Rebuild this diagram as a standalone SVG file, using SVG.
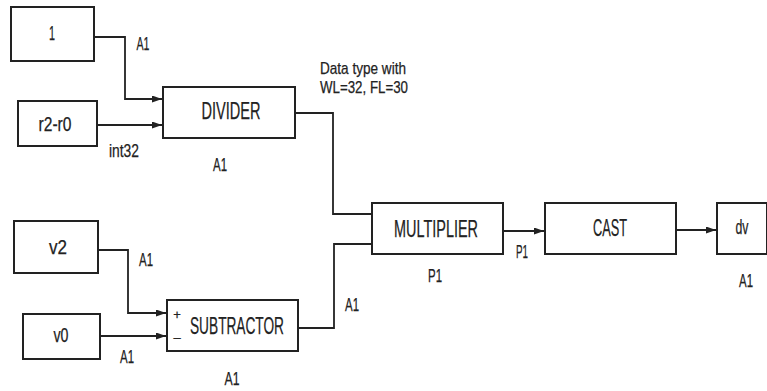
<svg xmlns="http://www.w3.org/2000/svg" width="767" height="391" viewBox="0 0 767 391">
<style>
.box{fill:#fff;stroke:#222;stroke-width:2}
.c{fill:none;stroke:#222;stroke-width:1.8}
text{font-family:"Liberation Sans",Arial,sans-serif;fill:#222;text-anchor:middle;stroke:#222;stroke-width:0.25}
.big{font-size:24px}
.in{font-size:20px}
.lb{font-size:18px}
.dt{font-size:17px}
.sg{font-size:13px}
</style>
<defs>
<marker id="ah" markerUnits="userSpaceOnUse" markerWidth="11" markerHeight="8" refX="10" refY="3.5" orient="auto">
<path d="M0,0 L10,3.5 L0,7 z" fill="#222"/>
</marker>
</defs>
<rect width="767" height="391" fill="#fff"/>
<g id="connectors">
<path class="c" d="M94,37 H125 V99 H162" marker-end="url(#ah)"/>
<path class="c" d="M97,125 H162" marker-end="url(#ah)"/>
<path class="c" d="M295,113 H333 V214 H372"/>
<path class="c" d="M298,328 H334 V244 H372"/>
<path class="c" d="M98,250 H128 V313 H166" marker-end="url(#ah)"/>
<path class="c" d="M100,336 H166" marker-end="url(#ah)"/>
<path class="c" d="M503,231 H544" marker-end="url(#ah)"/>
<path class="c" d="M676,230 H716" marker-end="url(#ah)"/>
</g>
<g id="n1"><rect class="box" x="11" y="7" width="83" height="54"/><text class="in" x="52" y="40" textLength="6" lengthAdjust="spacingAndGlyphs">1</text></g>
<g id="r2r0"><rect class="box" x="18" y="101" width="79" height="45"/><text class="in" x="55" y="131" textLength="33" lengthAdjust="spacingAndGlyphs">r2-r0</text></g>
<g id="divider"><rect class="box" x="163" y="87" width="132" height="51"/><text class="big" x="231" y="119" textLength="59" lengthAdjust="spacingAndGlyphs">DIVIDER</text></g>
<g id="v2"><rect class="box" x="14" y="221" width="84" height="52"/><text class="in" x="58" y="254" textLength="18" lengthAdjust="spacingAndGlyphs">v2</text></g>
<g id="v0"><rect class="box" x="23" y="314" width="77" height="45"/><text class="in" x="61" y="342" textLength="15" lengthAdjust="spacingAndGlyphs">v0</text></g>
<g id="subtractor"><rect class="box" x="167" y="300" width="131" height="51"/>
<text class="sg" x="177" y="319">+</text><text class="sg" x="177" y="342">–</text>
<text class="big" x="237" y="334" textLength="94" lengthAdjust="spacingAndGlyphs">SUBTRACTOR</text></g>
<g id="multiplier"><rect class="box" x="372" y="203" width="131" height="51"/><text class="big" x="436" y="237" textLength="84" lengthAdjust="spacingAndGlyphs">MULTIPLIER</text></g>
<g id="cast"><rect class="box" x="545" y="203" width="131" height="51"/><text class="big" x="610" y="236" textLength="34" lengthAdjust="spacingAndGlyphs">CAST</text></g>
<g id="dv"><rect class="box" x="717" y="203" width="50" height="51"/><text class="in" x="742" y="234" textLength="13" lengthAdjust="spacingAndGlyphs">dv</text></g>
<g id="labels">
<text class="lb" x="143" y="50" textLength="13" lengthAdjust="spacingAndGlyphs">A1</text>
<text class="lb" x="124" y="157" textLength="30" lengthAdjust="spacingAndGlyphs">int32</text>
<text class="lb" x="220" y="171" textLength="14" lengthAdjust="spacingAndGlyphs">A1</text>
<text class="dt" x="363" y="74" textLength="86" lengthAdjust="spacingAndGlyphs">Data type with</text>
<text class="dt" x="364" y="93" textLength="88" lengthAdjust="spacingAndGlyphs">WL=32, FL=30</text>
<text class="lb" x="146" y="266" textLength="14" lengthAdjust="spacingAndGlyphs">A1</text>
<text class="lb" x="127" y="363" textLength="14" lengthAdjust="spacingAndGlyphs">A1</text>
<text class="lb" x="232" y="385" textLength="15" lengthAdjust="spacingAndGlyphs">A1</text>
<text class="lb" x="352" y="311" textLength="14" lengthAdjust="spacingAndGlyphs">A1</text>
<text class="lb" x="522" y="258" textLength="12" lengthAdjust="spacingAndGlyphs">P1</text>
<text class="lb" x="435" y="282" textLength="14" lengthAdjust="spacingAndGlyphs">P1</text>
<text class="lb" x="746" y="287" textLength="14" lengthAdjust="spacingAndGlyphs">A1</text>
</g>
</svg>
